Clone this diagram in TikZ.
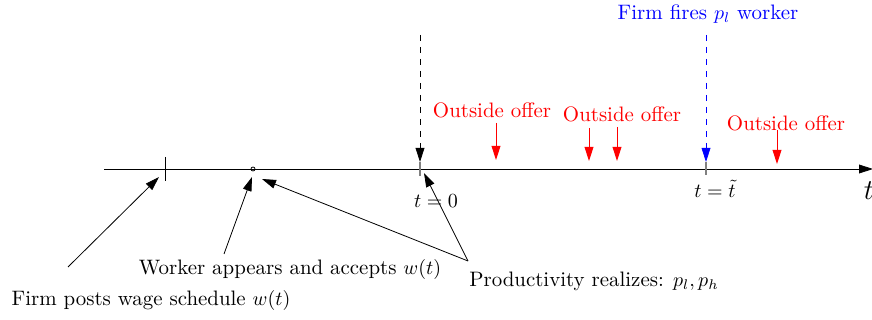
\documentclass[tikz,border=0pt]{standalone}
\usetikzlibrary{arrows.meta}
\begin{document}
\begin{tikzpicture}[x=0.5pt,y=-0.5pt,
  every node/.style={font=\fontsize{10.45}{12.5}\selectfont},
  tip/.style={-{Triangle[length=7pt,width=4.4pt]}},
  lbl/.style={inner sep=0pt},
  offer/.style={tip,red,line width=0.5pt},
  offertxt/.style={lbl,red},
  tick/.style={draw=gray,line width=0.6pt}]
\useasboundingbox (0,0) rectangle (872,320);
% axis
\coordinate (a0) at (104,169);
\coordinate (a1) at (873,169);
\draw[tip] (a0) -- (a1);
\node[lbl,font=\fontsize{15}{18}\selectfont] (tlab) at (869,191) {$t$};
% ticks and marks
\coordinate (k1a) at (165,157); \coordinate (k1b) at (165,181);
\draw[line width=0.5pt] (k1a) -- (k1b);
\node[circle,draw,inner sep=0pt,minimum size=2pt,line width=0.4pt] (dot) at (253,169) {};
\coordinate (k0a) at (420,162); \coordinate (k0b) at (420,176);
\draw[tick] (k0a) -- (k0b);
\coordinate (kta) at (706,162); \coordinate (ktb) at (706,175);
\draw[tick] (kta) -- (ktb);
\node[lbl] (t0) at (436,201) {$t=0$};
\node[lbl] (tt) at (715,189) {$t=\tilde t$};
% dashed arrows
\coordinate (d0) at (420,35);
\draw[tip,dashed] (d0) -- (k0a);
\node[lbl,blue] (fire) at (708,14) {Firm fires $p_l$ worker};
\coordinate (d1) at (706,35);
\draw[tip,dashed,blue] (d1) -- (kta);
% outside offers
\node[offertxt] (o1) at (492,110) {Outside offer};
\node[offertxt] (o2) at (622,114) {Outside offer};
\node[offertxt] (o3) at (786,123) {Outside offer};
\coordinate (r1a) at (496,123); \coordinate (r1b) at (496,160);
\coordinate (r2a) at (589,128); \coordinate (r2b) at (589,161);
\coordinate (r3a) at (617,127); \coordinate (r3b) at (617,161);
\coordinate (r4a) at (777,130); \coordinate (r4b) at (777,164);
\draw[offer] (r1a) -- (r1b);
\draw[offer] (r2a) -- (r2b);
\draw[offer] (r3a) -- (r3b);
\draw[offer] (r4a) -- (r4b);
% bottom labels
\node[lbl] (firm) at (151,301) {Firm posts wage schedule $w(t)$};
\node[lbl] (work) at (290,269) {Worker appears and accepts $w(t)$};
\node[lbl] (prod) at (594,281) {Productivity realizes: $p_l,p_h$};
\coordinate (s1) at (68,267);
\coordinate (e1) at (159,177);
\draw[tip] (s1) -- (e1);
\coordinate (s2) at (224,254);
\coordinate (e2) at (252,177);
\draw[tip] (s2) -- (e2);
\coordinate (s3) at (468,261);
\coordinate (e3) at (262,179);
\coordinate (e4) at (424,173);
\draw[tip] (s3) -- (e3);
\draw[tip] (s3) -- (e4);
\end{tikzpicture}
\end{document}
